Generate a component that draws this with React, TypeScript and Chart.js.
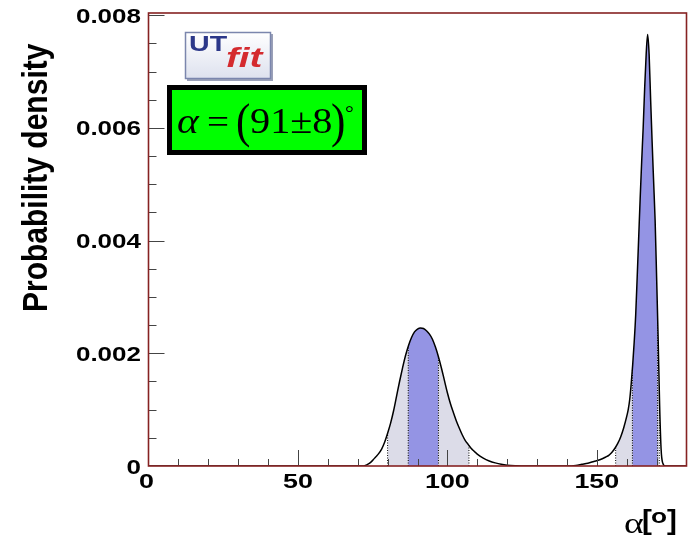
import React, { useEffect, useRef } from "react";
import { Chart, registerables } from "chart.js";
Chart.register(...registerables);

// alpha in degrees, probability density
const alphaDeg = [
  0, 70, 72, 73, 74, 75, 76, 77, 78, 79, 80, 81, 82, 83, 84, 85, 86, 87, 88, 89, 90, 91, 92, 93, 94, 95, 96, 97, 98, 99, 100,
  101, 102, 103, 104, 105, 106, 107, 108, 109, 110, 112, 114, 116, 118, 120, 123, 126,
  140, 143, 145, 147, 149, 151, 153, 154, 155, 156, 157, 158, 159, 160, 160.5, 161, 161.5, 162, 162.5, 163, 163.5, 164,
  164.5, 165, 165.5, 166, 166.5, 167, 167.5, 168, 168.5, 169, 169.5, 170, 170.5, 171, 171.5, 172, 173, 180,
];
const density = [
  0, 0, 0, 0.00002, 0.00005, 0.0001, 0.00016, 0.00022, 0.0003, 0.00042, 0.00058, 0.00076, 0.00098, 0.00124, 0.0015, 0.00174,
  0.00196, 0.00214, 0.00228, 0.00238, 0.00243, 0.00245, 0.00244, 0.0024, 0.00234, 0.00225, 0.00211, 0.00194, 0.00174, 0.00152,
  0.0013, 0.00111, 0.00095, 0.0008, 0.00067, 0.00055, 0.00045, 0.00038, 0.00031, 0.00026, 0.00021, 0.00014, 0.00009, 0.000055,
  0.00003, 0.000015, 0.000005, 0,
  0, 0.00001, 0.00003, 0.00005, 0.00008, 0.00011, 0.00016, 0.00019, 0.00024, 0.00031, 0.0004, 0.00052, 0.00068, 0.00088, 0.001,
  0.00118, 0.00146, 0.0018, 0.0022, 0.00268, 0.00335, 0.00405, 0.00475, 0.0054, 0.006, 0.0067, 0.0073, 0.00766, 0.0073, 0.0065,
  0.00575, 0.00505, 0.00436, 0.00335, 0.0023, 0.0011, 0.0003, 0.00006, 0, 0,
];
// 95% and 68% probability intervals (degrees)
const interval95 = [
  [80.0, 107.2],
  [156.3, 170.9],
];
const interval68 = [
  [86.9, 97.0],
  [161.9, 170.3],
];
const xTickLabels = [0, 50, 100, 150];
const yTickLabels = [0, 0.002, 0.004, 0.006, 0.008];
const yTickText = ["0", "0.002", "0.004", "0.006", "0.008"];

const X_MIN = 0;
const X_MAX = 180;
const Y_MAX = 0.00804;

function valueAt(x: number): number {
  for (let i = 0; i < alphaDeg.length - 1; i++) {
    const a = alphaDeg[i];
    const b = alphaDeg[i + 1];
    if (x >= a && x <= b) {
      const t = b === a ? 0 : (x - a) / (b - a);
      return density[i] + t * (density[i + 1] - density[i]);
    }
  }
  return 0;
}

function region(a: number, b: number) {
  const pts = [{ x: a, y: valueAt(a) }];
  alphaDeg.forEach((x, i) => {
    if (x > a && x < b) pts.push({ x, y: density[i] });
  });
  pts.push({ x: b, y: valueAt(b) });
  return pts;
}

const FRAME = "#862222";

const overlayPlugin = {
  id: "rootStyle",
  afterDatasetsDraw(chart: any) {
    const ctx = chart.ctx as CanvasRenderingContext2D;
    const xs = chart.scales.x;
    const ys = chart.scales.y;
    const area = chart.chartArea;
    ctx.save();
    // ticks
    ctx.strokeStyle = "#444";
    ctx.lineWidth = 1;
    ctx.beginPath();
    for (let v = 10; v < X_MAX; v += 10) {
      const px = Math.round(xs.getPixelForValue(v)) + 0.5;
      const len = v % 50 === 0 ? 16 : 7;
      ctx.moveTo(px, area.bottom);
      ctx.lineTo(px, area.bottom - len);
    }
    for (let k = 1; k <= 16; k++) {
      const v = k * 0.0005;
      const py = Math.round(ys.getPixelForValue(v)) + 0.5;
      const len = k % 4 === 0 ? 16 : 8;
      ctx.moveTo(area.left, py);
      ctx.lineTo(area.left + len, py);
    }
    ctx.stroke();
    // frame
    ctx.strokeStyle = FRAME;
    ctx.lineWidth = 1.6;
    ctx.strokeRect(area.left, area.top, area.right - area.left, area.bottom - area.top);

    // tick labels
    ctx.fillStyle = "#000";
    ctx.font = "bold 20px 'Liberation Sans', Arial, sans-serif";
    ctx.textBaseline = "alphabetic";
    yTickLabels.forEach((v, i) => {
      const py = ys.getPixelForValue(v);
      const txt = yTickText[i];
      const w = ctx.measureText(txt).width * 1.3;
      ctx.save();
      ctx.translate(141 - w, py + 7.5);
      ctx.scale(1.3, 1);
      ctx.fillText(txt, 0, 0);
      ctx.restore();
    });
    ctx.font = "bold 21px 'Liberation Sans', Arial, sans-serif";
    xTickLabels.forEach((v) => {
      const px = xs.getPixelForValue(v);
      const txt = String(v);
      const w = ctx.measureText(txt).width * 1.28;
      ctx.save();
      ctx.translate(px - w / 2 - (v === 0 ? 2 : 0), 488);
      ctx.scale(1.28, 1);
      ctx.fillText(txt, 0, 0);
      ctx.restore();
    });

    // y title
    ctx.save();
    ctx.font = "bold 30px 'Liberation Sans', Arial, sans-serif";
    ctx.translate(47, 312);
    ctx.rotate(-Math.PI / 2);
    ctx.scale(1, 1.16);
    ctx.fillText("Probability density", 0, 0);
    ctx.restore();

    // x title  α[°]
    ctx.save();
    ctx.font = "30px 'Liberation Serif', 'Times New Roman', serif";
    ctx.translate(624, 533);
    ctx.scale(1.25, 1);
    ctx.fillText("α", 0, 0);
    ctx.restore();
    ctx.save();
    ctx.font = "bold 27px 'Liberation Sans', Arial, sans-serif";
    ctx.translate(642, 529);
    ctx.scale(1.1, 1);
    ctx.fillText("[", 0, 0);
    ctx.restore();
    ctx.save();
    ctx.font = "bold 21px 'Liberation Sans', Arial, sans-serif";
    ctx.translate(651, 523);
    ctx.scale(1.25, 1);
    ctx.fillText("o", 0, 0);
    ctx.restore();
    ctx.save();
    ctx.font = "bold 27px 'Liberation Sans', Arial, sans-serif";
    ctx.translate(667, 529);
    ctx.scale(1.1, 1);
    ctx.fillText("]", 0, 0);
    ctx.restore();

    // UTfit logo
    ctx.save();
    const g = ctx.createLinearGradient(0, 32, 0, 79);
    g.addColorStop(0, "#ffffff");
    g.addColorStop(1, "#dde1ee");
    ctx.fillStyle = "#9aa0b8";
    ctx.fillRect(187, 34, 86, 47);
    ctx.fillStyle = g;
    ctx.fillRect(185, 32, 86, 47);
    ctx.strokeStyle = "#7b86ad";
    ctx.lineWidth = 1.5;
    ctx.strokeRect(185.5, 32.5, 85, 46);
    ctx.fillStyle = "#2c3889";
    ctx.font = "bold 22px 'Liberation Sans', Arial, sans-serif";
    ctx.translate(189, 51);
    ctx.scale(1.3, 1);
    ctx.fillText("UT", 0, 0);
    ctx.restore();
    ctx.save();
    ctx.fillStyle = "#d42a2e";
    ctx.font = "italic bold 28px 'Liberation Sans', Arial, sans-serif";
    ctx.translate(226, 67);
    ctx.scale(1.38, 1);
    ctx.fillText("fit", 0, 0);
    ctx.restore();

    // green result box
    ctx.save();
    ctx.fillStyle = "#000";
    ctx.fillRect(167, 85, 200, 70);
    ctx.fillStyle = "#00ff00";
    ctx.fillRect(172, 90, 190, 60);
    ctx.fillStyle = "#000";
    ctx.font = "italic 36px 'Liberation Serif', 'Times New Roman', serif";
    ctx.save();
    ctx.translate(177, 133);
    ctx.scale(1.15, 1);
    ctx.fillText("α", 0, 0);
    ctx.restore();
    ctx.font = "34px 'Liberation Serif', 'Times New Roman', serif";
    ctx.save();
    ctx.translate(207, 133);
    ctx.scale(1.15, 1);
    ctx.fillText("=", 0, 0);
    ctx.restore();
    ctx.font = "48px 'Liberation Serif', 'Times New Roman', serif";
    ctx.save();
    ctx.translate(236, 137);
    ctx.scale(0.9, 1);
    ctx.fillText("(", 0, 0);
    ctx.restore();
    ctx.save();
    ctx.translate(331, 137);
    ctx.scale(0.9, 1);
    ctx.fillText(")", 0, 0);
    ctx.restore();
    ctx.font = "35px 'Liberation Serif', 'Times New Roman', serif";
    ctx.save();
    ctx.translate(250, 133);
    ctx.scale(1.15, 1);
    ctx.fillText("91±8", 0, 0);
    ctx.restore();
    ctx.font = "22px 'Liberation Serif', 'Times New Roman', serif";
    ctx.fillText("°", 345, 120);
    ctx.restore();
    ctx.restore();
  },
};

export default function App() {
  const ref = useRef<HTMLCanvasElement | null>(null);
  useEffect(() => {
    if (!ref.current) return;
    const curve = alphaDeg.map((x, i) => ({ x, y: density[i] }));
    const dotted: any[] = [];
    [...interval95, ...interval68].forEach(([a, b]) => {
      [a, b].forEach((v) => {
        dotted.push({
          data: [
            { x: v, y: 0 },
            { x: v, y: valueAt(v) },
          ],
          borderColor: "#000",
          borderWidth: 1,
          borderDash: [1, 1.5],
          pointRadius: 0,
          fill: false,
        });
      });
    });
    const blue = interval68.map(([a, b]) => ({
      data: region(a, b),
      borderWidth: 0,
      borderColor: "rgba(0,0,0,0)",
      backgroundColor: "rgb(148,148,228)",
      pointRadius: 0,
      cubicInterpolationMode: "monotone",
      fill: "origin",
    }));
    const gray = interval95.map(([a, b]) => ({
      data: region(a, b),
      borderWidth: 0,
      borderColor: "rgba(0,0,0,0)",
      backgroundColor: "rgb(220,220,232)",
      pointRadius: 0,
      cubicInterpolationMode: "monotone",
      fill: "origin",
    }));
    const chart = new Chart(ref.current, {
      type: "line",
      data: {
        datasets: [
          {
            data: curve,
            borderColor: "#000",
            borderWidth: 1.5,
            pointRadius: 0,
            fill: false,
            cubicInterpolationMode: "monotone",
          },
          ...dotted,
          ...blue,
          ...gray,
        ] as any,
      },
      options: {
        animation: false,
        responsive: false,
        maintainAspectRatio: false,
        devicePixelRatio: 1,
        layout: { padding: { left: 148.5, top: 13, right: 2.5, bottom: 79 } },
        plugins: { legend: { display: false }, tooltip: { enabled: false } },
        scales: {
          x: { type: "linear", min: X_MIN, max: X_MAX, display: false },
          y: { type: "linear", min: 0, max: Y_MAX, display: false },
        },
      },
      plugins: [overlayPlugin],
    });
    return () => chart.destroy();
  }, []);
  return (
    <div style={{ position: "absolute", left: 0, top: 0, width: 689, height: 545, background: "#fff" }}>
      <canvas ref={ref} width={689} height={545} style={{ width: 689, height: 545, display: "block" }} />
    </div>
  );
}
